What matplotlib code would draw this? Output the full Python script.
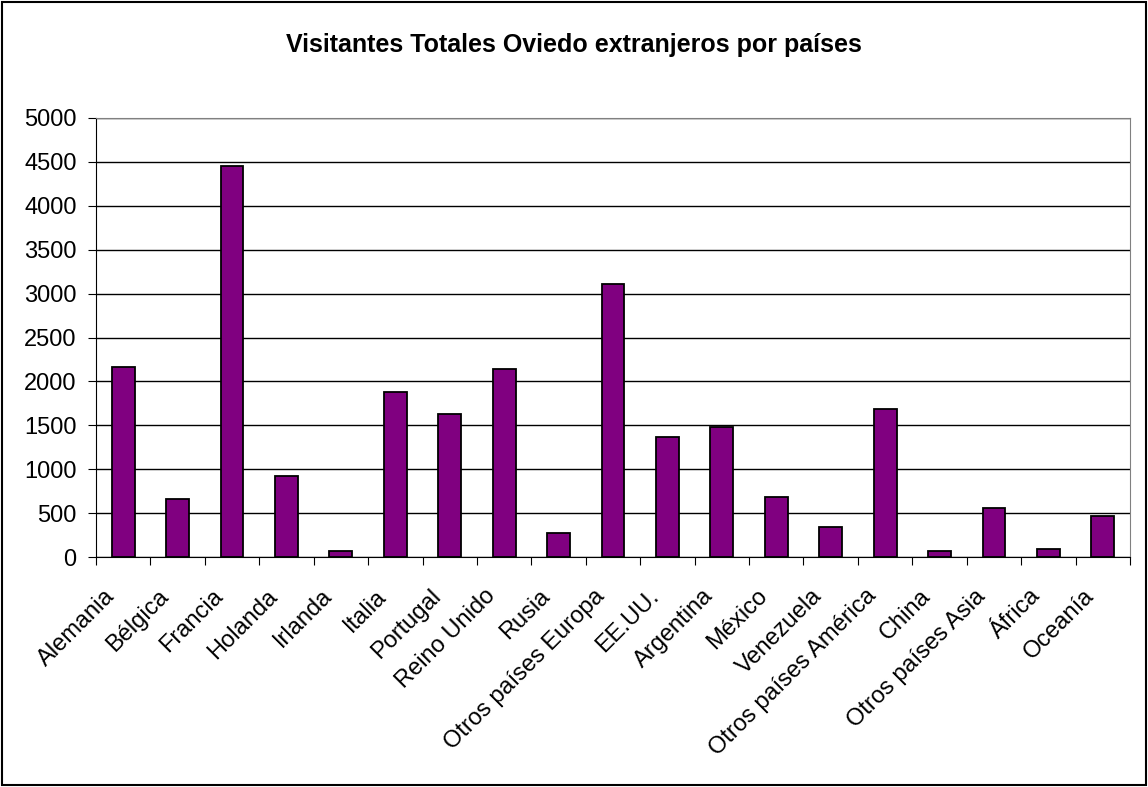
import matplotlib.pyplot as plt
from matplotlib.patches import Rectangle
from matplotlib.transforms import ScaledTranslation

paises = ["Alemania", "Bélgica", "Francia", "Holanda", "Irlanda", "Italia",
          "Portugal", "Reino Unido", "Rusia", "Otros países Europa", "EE.UU.",
          "Argentina", "México", "Venezuela", "Otros países América", "China",
          "Otros países Asia", "África", "Oceanía"]
visitantes = [2160, 664, 4450, 922, 65, 1883, 1625, 2141, 277, 3106, 1371,
              1477, 687, 345, 1690, 65, 562, 88, 470]
yticks = list(range(0, 5001, 500))

plt.rcParams['font.family'] = ['Liberation Sans', 'DejaVu Sans']

fig = plt.figure(figsize=(11.48, 7.87), dpi=100)
ax = fig.add_axes([96/1148, 1 - 557/787, (1130 - 96)/1148, (557 - 118)/787])

x = range(len(paises))
ax.bar(x, visitantes, width=0.42, color="#800080", edgecolor="black",
       linewidth=1.3, zorder=3)

ax.set_xlim(-0.5, len(paises) - 0.5)
ax.set_ylim(0, 5000)
ax.set_yticks(yticks)
ax.set_yticklabels([str(v) for v in yticks], fontsize=17)
ax.yaxis.grid(True, color="black", linewidth=1, zorder=0)

# ticks en los bordes de categoría, etiquetas centradas
ax.set_xticks([i - 0.5 for i in range(len(paises) + 1)])
ax.set_xticklabels([])
ax.set_xticks(list(x), minor=True)
ax.set_xticklabels(paises, minor=True, rotation=45, ha="right", va="center",
                   rotation_mode="anchor", fontsize=17)
ax.tick_params(axis="x", which="major", length=6, direction="out", color="black")
ax.tick_params(axis="x", which="minor", length=0, pad=0)
ax.tick_params(axis="y", length=6, direction="out", color="black", pad=8)

desplaza = ScaledTranslation(-0.12, -0.36, fig.dpi_scale_trans)
for lab in ax.get_xticklabels(minor=True):
    lab.set_transform(lab.get_transform() + desplaza)

for s in ["top", "right"]:
    ax.spines[s].set_color("gray")
for s in ["left", "bottom"]:
    ax.spines[s].set_color("black")

fig.text(0.5, 1 - 45/787, "Visitantes Totales Oviedo extranjeros por países",
         ha="center", va="center", fontsize=18, fontweight="bold")

fig.patches.append(Rectangle((0.002, 0.002), 0.996, 0.995, transform=fig.transFigure,
                             fill=False, edgecolor="black", linewidth=1.5))

fig.savefig("out.png", dpi=100)
